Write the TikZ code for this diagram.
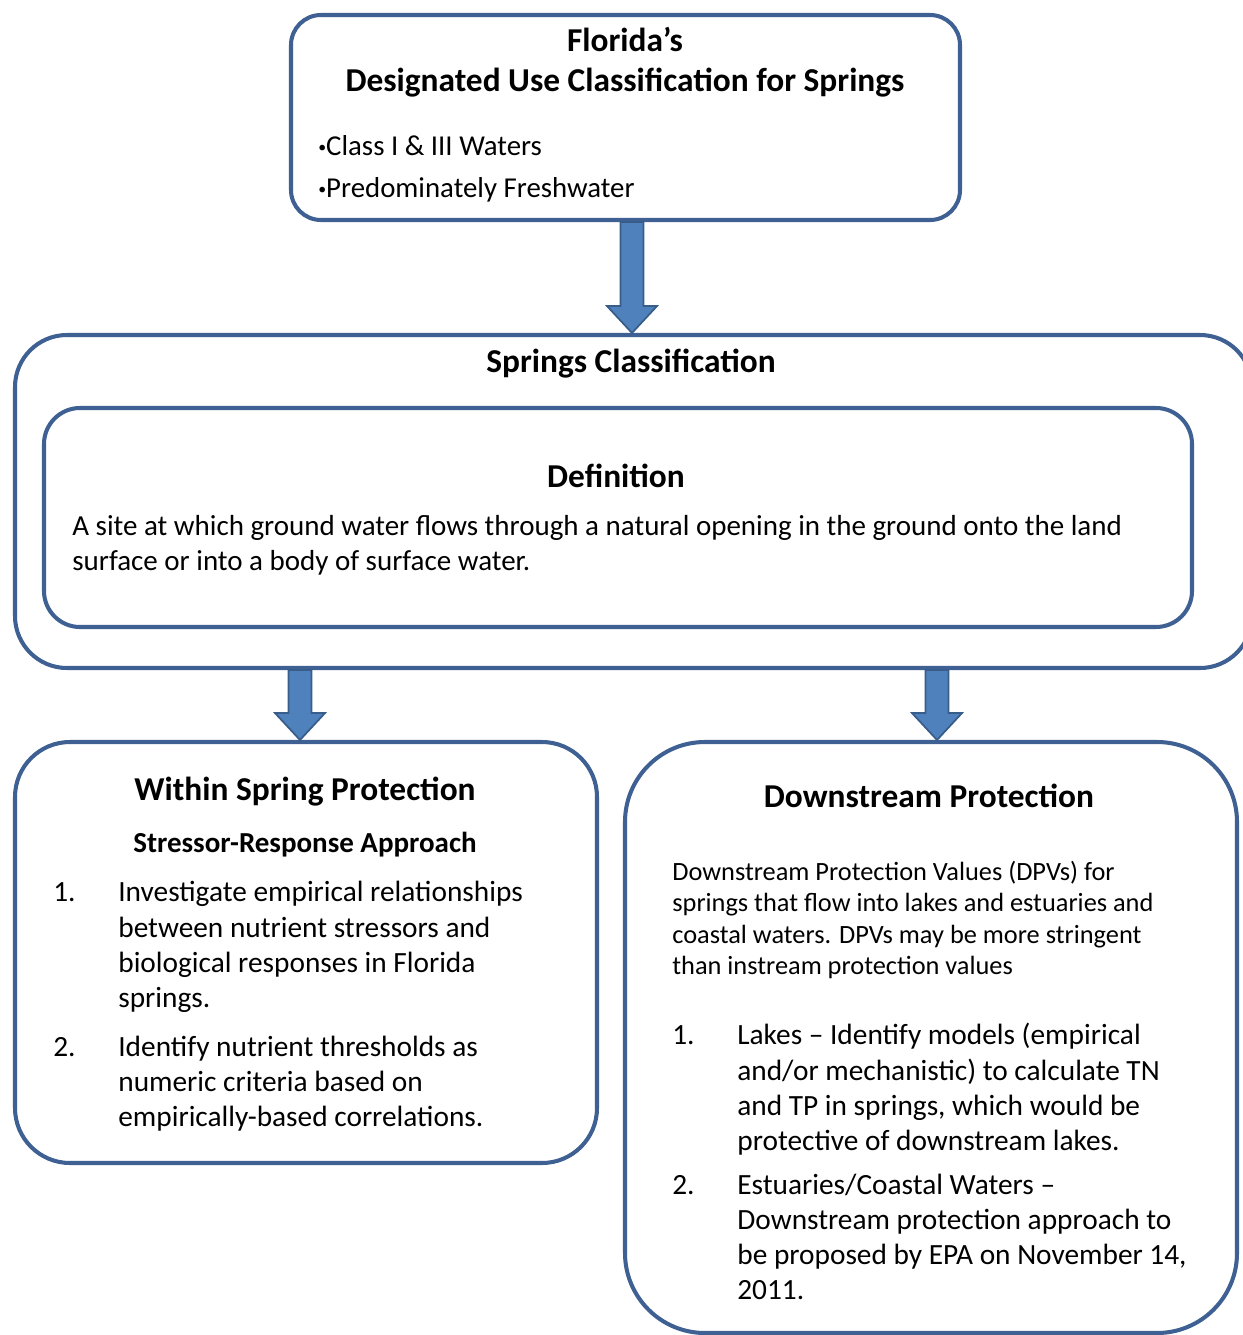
\documentclass[tikz,border=0pt]{standalone}
\usepackage{fontspec}
\setmainfont{Carlito}
\usepackage{tikz}
\usetikzlibrary{positioning,calc,fit}
\definecolor{boxblue}{RGB}{62,96,146}
\definecolor{arrfill}{RGB}{79,129,189}
\definecolor{arrline}{RGB}{56,93,138}
\tikzset{
  box/.style={draw=boxblue, line width=2.3pt, inner sep=0pt},
  head/.style={font=\fontsize{19}{23}\selectfont\bfseries, align=center, inner sep=0pt},
  subhead/.style={font=\fontsize{16.5}{20}\selectfont\bfseries, inner sep=0pt},
  body/.style={font=\fontsize{16.5}{20}\selectfont, align=left, inner sep=0pt},
  bullets/.style={font=\fontsize{16.4}{24}\selectfont, align=left, inner sep=0pt},
  smallbody/.style={font=\fontsize{15}{18}\selectfont, align=left, inner sep=0pt},
  listtxt/.style={font=\fontsize{16.7}{20}\selectfont, inner sep=0pt, anchor=north west},
  fatarr/.style={fill=arrfill, draw=arrline, line width=1pt, line join=miter},
}
% block arrow pointing down from #1 to #2
\newcommand{\fatarrow}[2]{%
  \draw[fatarr] let \p1=(#1), \p2=(#2) in
    (\x1-6.5pt,\y1) -- (\x1-6.5pt,\y2+15.3pt) -- (\x1-14.2pt,\y2+15.3pt) -- (\x1,\y2)
    -- (\x1+14.2pt,\y2+15.3pt) -- (\x1+6.5pt,\y2+15.3pt) -- (\x1+6.5pt,\y1) -- cycle;}
\newcommand{\dotitem}{\raisebox{2pt}{\fontsize{9}{9}\selectfont\textbullet}}

\begin{document}
\begin{tikzpicture}[x=0.02cm, y=-0.02cm]
  \useasboundingbox (0,0) rectangle (1243,1335);

  % boxes
  \node[box, rounded corners=0.6cm, fit={(291,15) (960,220)}] (top) {};
  \node[box, rounded corners=1.04cm, fit={(15,335) (1252,668)}] (springs) {};
  \node[box, rounded corners=0.72cm, fit={(44,408) (1192,627)}] (def) {};
  \node[box, rounded corners=1.1cm, fit={(15,742) (597,1163)}] (within) {};
  \node[box, rounded corners=1.6cm, fit={(625,742) (1237,1333)}] (down) {};

  % arrows
  \fatarrow{[xshift=0.13cm]top.south}{[xshift=0.13cm]top.south |- springs.north}
  \fatarrow{[xshift=-0.12cm]springs.south -| within.north}{[xshift=-0.12cm]within.north}
  \fatarrow{[xshift=0.12cm]springs.south -| down.north}{[xshift=0.12cm]down.north}

  % top box
  \node[head] (toptitle) at (625,62) {Florida’s\\Designated Use Classification for Springs};
  \node[bullets, anchor=west] (topitems) at (318,169) {\dotitem Class I \& III Waters\\\dotitem Predominately Freshwater};

  % springs classification
  \node[head] (sptitle) at (631,364) {Springs Classification};
  \node[head] (deftitle) at (616,476) {Definition};
  \node[body, anchor=west] (deftext) at (72,545) {A site at which ground water flows through a natural opening in the ground onto the land\\surface or into a body of surface water.};

  % within spring protection
  \node[head] (wtitle) at (305,792) {Within Spring Protection};
  \node[subhead, below=30pt of wtitle.center, anchor=center] (wsub) {Stressor-Response Approach};
  \node[listtxt] (wlist) at (53,877) {%
    \begin{tabular}{@{}p{37pt}@{}l@{}}
      1. & Investigate empirical relationships\\
         & between nutrient stressors and\\
         & biological responses in Florida\\
         & springs.\\[8pt]
      2. & Identify nutrient thresholds as\\
         & numeric criteria based on\\
         & empirically-based correlations.
    \end{tabular}};

  % downstream protection
  \node[head] (dtitle) at (929,796) {Downstream Protection};
  \node[smallbody, anchor=west] (dtext) at (672,920) {Downstream Protection Values (DPVs) for\\springs that flow into lakes and estuaries and\\coastal waters. DPVs may be more stringent\\than instream protection values};
  \node[listtxt] (dlist) at (672,1020) {%
    \begin{tabular}{@{}p{37pt}@{}l@{}}
      1. & Lakes -- Identify models (empirical\\
         & and/or mechanistic) to calculate TN\\
         & and TP in springs, which would be\\
         & protective of downstream lakes.\\[5pt]
      2. & Estuaries/Coastal Waters --\\
         & Downstream protection approach to\\
         & be proposed by EPA on November 14,\\
         & 2011.
    \end{tabular}};
\end{tikzpicture}
\end{document}
